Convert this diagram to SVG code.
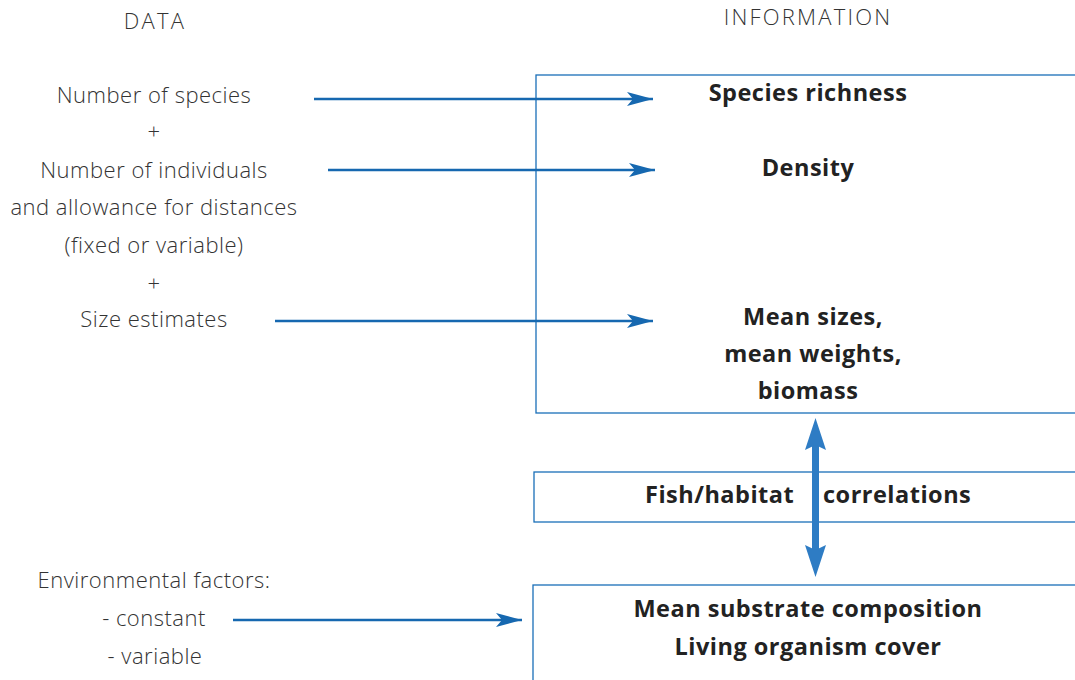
<svg xmlns="http://www.w3.org/2000/svg" width="1075" height="680" viewBox="0 0 1075 680">
<style>
.lt{font-family:"Open Sans","Liberation Sans",sans-serif;font-weight:300;font-size:22px;letter-spacing:0.5px;fill:#333;text-anchor:middle}
.hd{letter-spacing:2.2px}
.bd{font-family:"Open Sans","Liberation Sans",sans-serif;font-weight:700;font-size:23.5px;letter-spacing:0.5px;fill:#222;text-anchor:middle}
.st{text-anchor:start}
.box{fill:#fff;stroke:#1a6fb8;stroke-width:1.3}
.ar{stroke:#1668b0;stroke-width:2.5;fill:none;marker-end:url(#ah)}
</style>
<defs>
<marker id="ah" markerWidth="28" markerHeight="14" refX="26" refY="7" orient="auto" markerUnits="userSpaceOnUse">
<path d="M0,0 L26,7 L0,14 L6,7 Z" fill="#1668b0"/>
</marker>
</defs>
<rect width="1075" height="680" fill="#fff"/>
<g id="nodes">
<g id="box-top"><rect class="box" x="536" y="75" width="545" height="338"/>
<text class="bd" x="808" y="101">Species richness</text>
<text class="bd" x="808" y="176">Density</text>
<text class="bd" x="813" y="325">Mean sizes,</text>
<text class="bd" x="813" y="362">mean weights,</text>
<text class="bd" x="808" y="399">biomass</text></g>
<g id="box-mid"><rect class="box" x="534" y="472" width="547" height="50"/>
<text class="bd st" x="645" y="503">Fish/habitat</text>
<text class="bd st" x="823" y="503">correlations</text></g>
<g id="box-bot"><rect class="box" x="533" y="585" width="548" height="100"/>
<text class="bd" x="808" y="617">Mean substrate composition</text>
<text class="bd" x="808" y="655">Living organism cover</text></g>
<g id="data">
<text class="lt hd" x="155" y="29">DATA</text>
<text class="lt hd" x="808" y="25">INFORMATION</text>
<text class="lt" x="154" y="103">Number of species</text>
<text class="lt" x="154" y="139">+</text>
<text class="lt" x="154" y="178">Number of individuals</text>
<text class="lt" x="154" y="215">and allowance for distances</text>
<text class="lt" x="154" y="253">(fixed or variable)</text>
<text class="lt" x="154" y="291">+</text>
<text class="lt" x="154" y="327">Size estimates</text>
<text class="lt" x="154" y="588">Environmental factors:</text>
<text class="lt" x="154" y="626">- constant</text>
<text class="lt" x="155" y="664">- variable</text>
</g>
</g>
<g id="connectors">
<line class="ar" x1="314" y1="99" x2="653" y2="99"/>
<line class="ar" x1="328" y1="170" x2="655" y2="170"/>
<line class="ar" x1="275" y1="321" x2="653" y2="321"/>
<line class="ar" x1="233" y1="620" x2="522" y2="620"/>
<g id="double-arrow" fill="#2e7cc4">
<rect x="812" y="445" width="7" height="105"/>
<path d="M815.5,418 L826,450 L815.5,445 L805,450 Z"/>
<path d="M815.5,577 L826,545 L815.5,550 L805,545 Z"/>
</g>
</g>
</svg>
